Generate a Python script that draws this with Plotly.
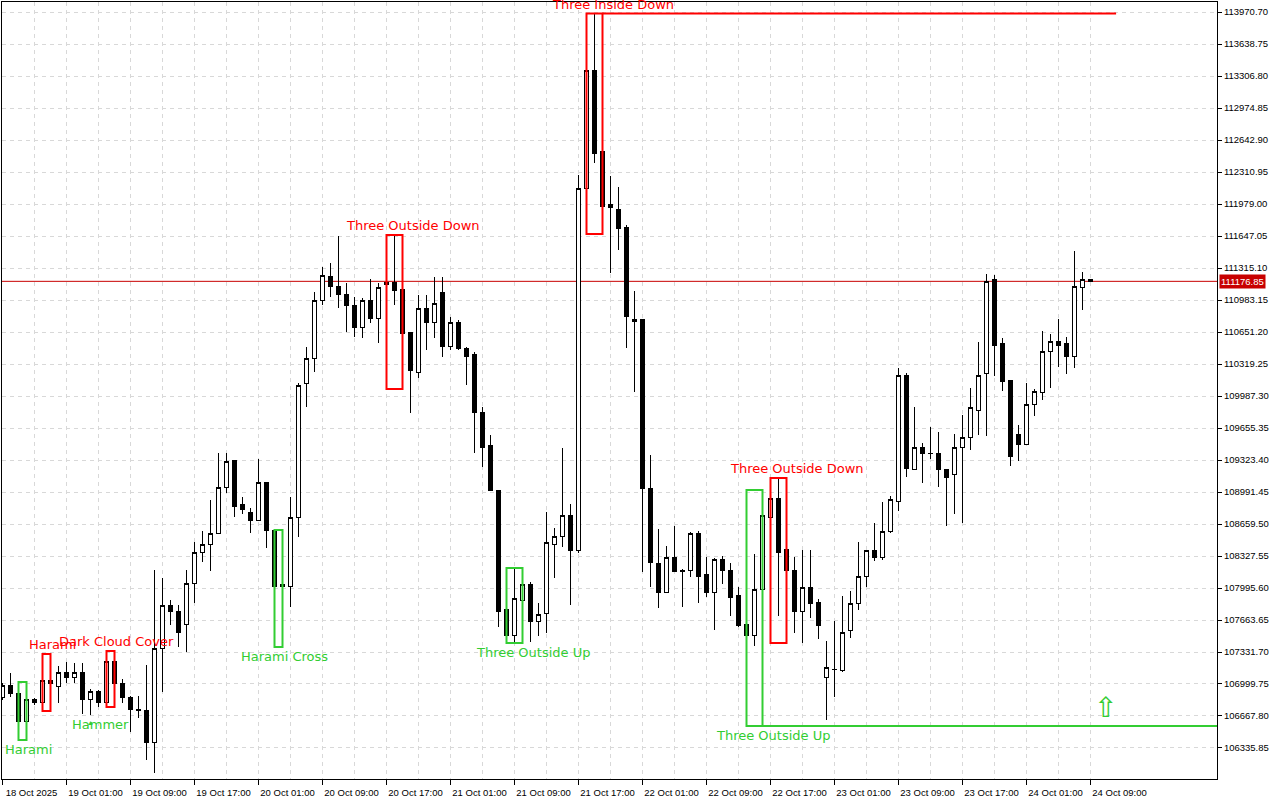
import pandas as pd
import plotly.graph_objects as go

# hourly bars, 18 Oct 2025 17:00 .. 24 Oct 2025 09:00
times = pd.date_range("2025-10-18 17:00", periods=137, freq="h")

opens = [
    106855, 106989, 106906, 106606, 106834, 106803, 107031, 106969, 107124, 107072,
    107124, 106844, 106917, 106803, 107228, 107000, 106855, 106740, 106730, 106398,
    107363, 107819, 107747, 107612, 108047, 108369, 108442, 108566, 109043, 109323,
    108857, 108784, 108701, 109095, 108597, 108027, 108006, 108722, 110112, 110381,
    110983, 111232, 111128, 111045, 110931, 110693, 110973, 110796, 111139, 111160,
    111087, 110641, 110236, 110890, 110745, 111056, 110506, 110745, 110475, 110413,
    109821, 109479, 109012, 107768, 107498, 107861, 108027, 107653, 107726, 108442,
    108525, 108743, 108380, 112135, 113359, 112519, 111969, 111927, 111740, 110786,
    110786, 109023, 108245, 107944, 108317, 108182, 108182, 108566, 108131, 107944,
    108296, 108182, 107913, 107622, 107498, 107985, 108722, 108929, 108390, 108182,
    107747, 107996, 107850, 107062, 107155, 107135, 107550, 107830, 108120, 108380,
    108317, 108577, 108898, 110205, 109230, 109458, 109396, 109396, 109230, 109168,
    109458, 109552, 109832, 110216, 111191, 110527, 110153, 109583, 109489, 109904,
    110019, 110444, 110548, 110527, 110402, 111118, 111201,
]
highs = [
    107010, 107114, 107021, 106865, 106855, 107311, 107145, 107187, 107228, 107218,
    107218, 106948, 106938, 107342, 107342, 107052, 106875, 106875, 107197, 108182,
    108099, 107871, 107819, 108182, 108473, 108587, 108909, 109396, 109396, 109323,
    108940, 108826, 109334, 109095, 108597, 108255, 108940, 110122, 110495, 111066,
    111325, 111367, 111647, 111160, 111014, 111004, 111201, 111160, 111367, 111658,
    111263, 110641, 111035, 111035, 111222, 111222, 110807, 110776, 110496, 110444,
    109873, 109583, 109012, 107944, 108203, 108203, 108058, 107840, 108784, 108618,
    109448, 108867, 112280, 113494, 113955, 112954, 112270, 112155, 111761, 111077,
    110786, 109375, 108608, 108431, 108639, 108193, 108577, 108587, 108317, 108307,
    108327, 108255, 108006, 108182, 108348, 109012, 109033, 109137, 108784, 108317,
    108390, 108390, 107882, 107446, 107653, 107913, 107964, 108473, 108380, 108670,
    108888, 108950, 110278, 110226, 109873, 109500, 109666, 109614, 109230, 109593,
    109790, 110070, 110548, 111253, 111243, 110589, 110153, 109687, 110122, 110060,
    110662, 110631, 110786, 110599, 111492, 111274, 111201,
]
lows = [
    106834, 106865, 106419, 106574, 106782, 106720, 106906, 106803, 107010, 107010,
    106689, 106678, 106761, 106761, 106969, 106803, 106502, 106647, 106211, 106077,
    106917, 107612, 107384, 107332, 107840, 108265, 108172, 108566, 108981, 108732,
    108763, 108566, 108701, 108411, 107384, 107840, 107799, 108525, 109873, 110236,
    110931, 111014, 110900, 110652, 110599, 110589, 110745, 110537, 110672, 110931,
    110060, 109811, 110174, 110465, 110589, 110392, 110465, 110465, 110101, 109396,
    109251, 109002, 107591, 107425, 107436, 107591, 107436, 107498, 107529, 108099,
    108421, 107819, 108359, 111668, 112404, 111740, 111263, 111502, 110485, 110029,
    108162, 108006, 107788, 107944, 108162, 107799, 108110, 107840, 107902, 107560,
    108037, 107705, 107591, 106564, 107394, 107560, 108680, 107705, 107425, 107529,
    107425, 107685, 107467, 106626, 106865, 107124, 107477, 107767, 108006, 108276,
    108286, 108566, 108794, 109147, 109220, 109085, 109334, 109043, 108639, 108763,
    108670, 109427, 109583, 109572, 110195, 110039, 109261, 109313, 109479, 109780,
    109946, 110070, 110288, 110216, 110278, 110879, 111170,
]
closes = [
    106989, 106906, 106606, 106834, 106803, 107031, 107010, 107124, 107072, 107124,
    106844, 106917, 106803, 107228, 107000, 106855, 106740, 106730, 106398, 107363,
    107819, 107747, 107539, 108047, 108369, 108442, 108566, 109043, 109313, 108846,
    108815, 108691, 109095, 108597, 108006, 108016, 108722, 110101, 110381, 110973,
    111242, 111128, 111045, 110921, 110693, 110983, 110796, 111108, 111160, 111077,
    110631, 110247, 110890, 110745, 110942, 110506, 110745, 110475, 110402, 109811,
    109458, 109002, 107747, 107498, 107882, 108027, 107653, 107716, 108463, 108525,
    108743, 108380, 112135, 113359, 112508, 111958, 111938, 111730, 110817, 110765,
    109023, 108255, 107944, 108317, 108162, 108162, 108566, 108120, 107944, 108296,
    108172, 107902, 107602, 107498, 107985, 108743, 108919, 108369, 108172, 107747,
    107996, 107840, 107602, 107166, 107150, 107539, 107830, 108110, 108380, 108317,
    108577, 108909, 110195, 109240, 109458, 109396, 109390, 109230, 109147, 109458,
    109552, 109863, 110205, 111180, 110516, 110133, 109355, 109489, 109904, 110039,
    110454, 110548, 110516, 110402, 111128, 111201, 111176.85,
]

price_ticks = [
    106335.85, 106667.80, 106999.75, 107331.70, 107663.65, 107995.60, 108327.55,
    108659.50, 108991.45, 109323.40, 109655.35, 109987.30, 110319.25, 110651.20,
    110983.15, 111315.10, 111647.05, 111979.00, 112310.95, 112642.90, 112974.85,
    113306.80, 113638.75, 113970.70,
]
last_price = 111176.85

# (name, first bar, last bar, bullish?)
patterns = [
    ("Harami", 2, 3, True),
    ("Harami", 5, 6, False),
    ("Dark Cloud Cover", 13, 14, False),
    ("Harami Cross", 34, 35, True),
    ("Three Outside Down", 48, 50, False),
    ("Three Outside Up", 63, 65, True),
    ("Three Inside Down", 73, 75, False),
    ("Three Outside Up", 93, 95, True),
    ("Three Outside Down", 96, 98, False),
]
hammer_bar = 11

GREEN = "#32cd32"
RED = "#ff0000"
GRID = "#d8d8d8"
AXIS_FONT = dict(family="Liberation Sans, Arial", size=9.5, color="black")
LABEL_FONT = "DejaVu Sans"

hour = pd.Timedelta(hours=1)
x_start = times[0] - 0.0625 * hour
x_end = x_start + 151.875 * hour

fig = go.Figure()
fig.add_trace(
    go.Candlestick(
        x=times,
        open=opens,
        high=highs,
        low=lows,
        close=closes,
        increasing=dict(line=dict(color="black", width=1), fillcolor="white"),
        decreasing=dict(line=dict(color="black", width=1), fillcolor="black"),
        whiskerwidth=0,
        showlegend=False,
    )
)

# current price line
fig.add_shape(type="line", xref="paper", x0=0, x1=1, y0=last_price, y1=last_price,
              line=dict(color="#c80000", width=1), layer="below")
fig.add_annotation(xref="paper", x=1, y=last_price, xanchor="left", xshift=2,
                   text=f"{last_price:.2f}", showarrow=False, bgcolor="#c80000",
                   borderpad=1, font=dict(family="Liberation Sans, Arial", size=9.5, color="white"))

for name, s, e, bull in patterns:
    color = GREEN if bull else RED
    top = max(highs[s:e + 1])
    bot = min(lows[s:e + 1])
    fig.add_shape(type="rect", x0=times[s], x1=times[e], y0=bot, y1=top,
                  line=dict(color=color, width=2))
    off = 0.25 if e - s == 1 else 1.25
    fig.add_annotation(x=times[e] + off * hour, y=bot if bull else top,
                       yanchor="top" if bull else "bottom", text=name, showarrow=False,
                       font=dict(family=LABEL_FONT, size=13, color=color))
    if name == "Three Inside Down":
        fig.add_shape(type="line", x0=times[e], x1=times[0] + 139.2 * hour, y0=top, y1=top,
                      line=dict(color=color, width=2))
    if name == "Three Outside Up" and s == 93:
        fig.add_shape(type="line", x0=times[s], x1=x_end, y0=bot, y1=bot,
                      line=dict(color=color, width=2))
        fig.add_annotation(x=times[0] + 137.9 * hour, y=bot, yanchor="bottom", yshift=0,
                           text="⇧", showarrow=False,
                           font=dict(family="DejaVu Sans", size=28, color=color))

# hammer marker
fig.add_annotation(x=times[hammer_bar], y=lows[hammer_bar], yanchor="top", yshift=-1,
                   text="▲", showarrow=False, font=dict(size=7, color=GREEN))
fig.add_annotation(x=times[hammer_bar] + 1.2 * hour, y=lows[hammer_bar], yanchor="top",
                   text="Hammer", showarrow=False,
                   font=dict(family=LABEL_FONT, size=13, color=GREEN))

major = list(times[::8])
minor = list(times[4::8])
tick_text = ["18 Oct 2025"] + [f"{t.day} Oct {t:%H:%M}" for t in major[1:]]

fig.update_layout(
    width=1280,
    height=800,
    margin=dict(l=2, r=63, t=2, b=21),
    paper_bgcolor="white",
    plot_bgcolor="white",
    boxgap=0.4,
    xaxis=dict(
        range=[x_start, x_end],
        rangeslider=dict(visible=False),
        tickvals=major,
        ticktext=tick_text,
        ticks="outside",
        ticklen=5,
        tickcolor="black",
        ticklabelshift=29,
        tickfont=AXIS_FONT,
        showline=True,
        linecolor="black",
        linewidth=1,
        mirror=True,
        showgrid=True,
        gridcolor=GRID,
        griddash="4px,4px",
        minor=dict(tickvals=minor, showgrid=True, gridcolor=GRID, griddash="4px,4px"),
        zeroline=False,
    ),
    yaxis=dict(
        side="right",
        range=[106014.2, 114074.5],
        tickvals=price_ticks,
        ticktext=[f"{v:.2f}" for v in price_ticks],
        ticks="outside",
        ticklen=4,
        tickcolor="black",
        tickfont=AXIS_FONT,
        showline=True,
        linecolor="black",
        linewidth=1,
        mirror=True,
        showgrid=True,
        gridcolor=GRID,
        griddash="4px,4px",
        zeroline=False,
    ),
    hovermode=False,
)

crisp = (
    "document.body.style.margin='0';"
    "document.querySelectorAll('.boxlayer path').forEach(function(p){"
    "p.style.shapeRendering='crispEdges';});"
)
fig.write_html("out.html", config={"displayModeBar": False}, post_script=crisp)
